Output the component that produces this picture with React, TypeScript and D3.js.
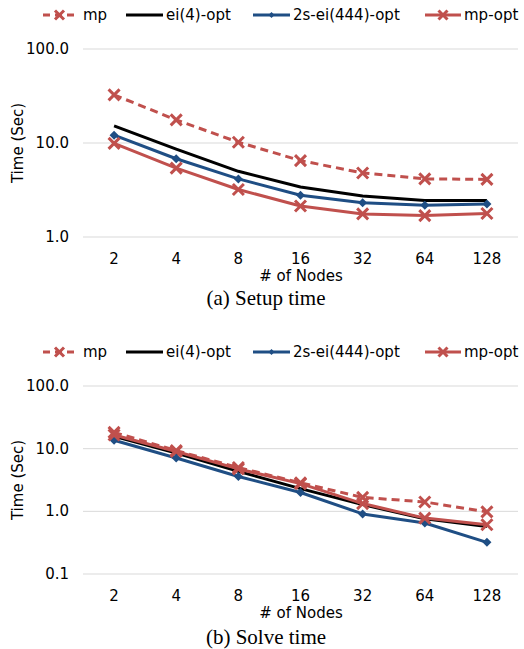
import React from 'react';
import * as d3 from 'd3';

const nodes = ['2', '4', '8', '16', '32', '64', '128'];
const seriesNames = ['mp', 'ei(4)-opt', '2s-ei(444)-opt', 'mp-opt'];

// setup time (sec)
const setupMp = [32.5, 17.6, 10.2, 6.5, 4.8, 4.15, 4.1];
const setupEi = [15.2, 8.6, 5.0, 3.4, 2.73, 2.45, 2.45];
const setupTwoS = [12.1, 6.8, 4.15, 2.78, 2.32, 2.18, 2.24];
const setupMpOpt = [9.9, 5.4, 3.2, 2.14, 1.76, 1.69, 1.78];

// solve time (sec)
const solveMp = [18.2, 9.3, 5.0, 2.85, 1.67, 1.41, 0.98];
const solveEi = [15.7, 8.5, 4.35, 2.3, 1.28, 0.76, 0.575];
const solveTwoS = [13.6, 7.1, 3.6, 2.0, 0.91, 0.65, 0.32];
const solveMpOpt = [16.5, 9.0, 4.75, 2.77, 1.33, 0.78, 0.61];

const setupTicks = [1, 10, 100];
const solveTicks = [0.1, 1, 10, 100];

const RED = '#C0504D';
const BLUE = '#1F4E84';
const FONT = '"DejaVu Sans", Verdana, sans-serif';

const styles = [
  { color: RED, dash: '8,5', marker: 'x' },
  { color: '#000', dash: null, marker: null },
  { color: BLUE, dash: null, marker: 'diamond' },
  { color: RED, dash: null, marker: 'x' },
];

const Marker = ({ type, x, y, color, small = false }) => {
  if (type === 'x') {
    const r = small ? 4.5 : 5.5;
    return <path d={`M${x - r},${y - r}L${x + r},${y + r}M${x - r},${y + r}L${x + r},${y - r}`} stroke={color} strokeWidth={3} />;
  }
  if (type === 'diamond') {
    const r = small ? 3 : 4.5;
    return <path d={`M${x},${y - r}L${x + r},${y}L${x},${y + r}L${x - r},${y}Z`} fill={color} />;
  }
  return null;
};

const Legend = ({ y }) => {
  const items = [
    { x1: 43, x2: 76, tx: 83 },
    { x1: 126, x2: 163, tx: 166 },
    { x1: 253, x2: 290, tx: 293 },
    { x1: 425, x2: 461, tx: 464 },
  ];
  return (
    <g fontFamily={FONT} fontSize={15}>
      {items.map((it, i) => {
        const s = styles[i];
        return (
          <g key={i}>
            <line x1={it.x1} x2={it.x2} y1={y} y2={y} stroke={s.color} strokeWidth={3} strokeDasharray={s.dash ? '7,5' : undefined} />
            <Marker type={s.marker} x={(it.x1 + it.x2) / 2} y={y} color={s.color} small />
            <text x={it.tx} y={y + 5} fill="#000">{seriesNames[i]}</text>
          </g>
        );
      })}
    </g>
  );
};

const Panel = ({ series, ticks, top, bottom, caption, legendY, captionY }) => {
  const left = 83;
  const right = 518;
  const x = d3.scalePoint().domain(nodes).range([left, right]).padding(0.5);
  const y = d3.scaleLog().domain([ticks[0], ticks[ticks.length - 1]]).range([bottom, top]);
  const line = d3.line().x((d, i) => x(nodes[i])).y(d => y(d));
  return (
    <g>
      <Legend y={legendY} />
      {ticks.map(t => (
        <g key={t}>
          <line x1={left} x2={right} y1={y(t)} y2={y(t)} stroke="#d9d9d9" strokeWidth={1} />
          <text x={69} y={y(t) + 5} textAnchor="end" fontFamily={FONT} fontSize={15} fill="#000">{t.toFixed(1)}</text>
        </g>
      ))}
      {nodes.map(n => (
        <text key={n} x={x(n)} y={bottom + 27} textAnchor="middle" fontFamily={FONT} fontSize={15} fill="#000">{n}</text>
      ))}
      <text x={301} y={bottom + 44} textAnchor="middle" fontFamily={FONT} fontSize={15} fill="#000"># of Nodes</text>
      <text transform={`translate(23,${(top + bottom) / 2}) rotate(-90)`} textAnchor="middle" fontFamily={FONT} fontSize={15} fill="#000">Time (Sec)</text>
      {[1, 2, 3, 0].map(i => {
        const s = styles[i];
        return (
          <g key={i}>
            <path d={line(series[i])} fill="none" stroke={s.color} strokeWidth={3} strokeDasharray={s.dash || undefined} strokeLinejoin="round" />
            {series[i].map((v, j) => (
              <Marker key={j} type={s.marker} x={x(nodes[j])} y={y(v)} color={s.color} />
            ))}
          </g>
        );
      })}
      <text x={266} y={captionY} textAnchor="middle" fontFamily='"Liberation Serif", "Times New Roman", serif' fontSize={21} fill="#000">{caption}</text>
    </g>
  );
};

const App = () => {
  return (
    <svg width={524} height={649} style={{ position: 'absolute', left: 0, top: 0, background: '#fff' }}>
      <rect width={524} height={649} fill="#fff" />
      <Panel series={[setupMp, setupEi, setupTwoS, setupMpOpt]} ticks={setupTicks} top={49} bottom={237} caption="(a) Setup time" legendY={15} captionY={305} />
      <Panel series={[solveMp, solveEi, solveTwoS, solveMpOpt]} ticks={solveTicks} top={386} bottom={574} caption="(b) Solve time" legendY={352} captionY={644} />
    </svg>
  );
};

export default App;
